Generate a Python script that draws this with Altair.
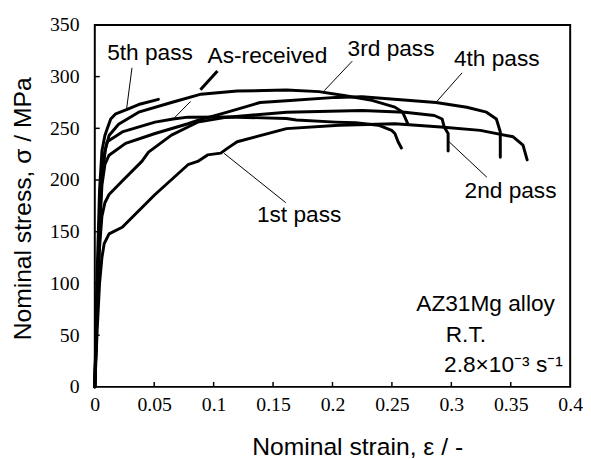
import altair as alt
import pandas as pd

# ---- data ----
series_names = ["5th pass", "3rd pass", "As-received", "4th pass", "2nd pass", "1st pass"]

strain_5th = [0, 0.002, 0.004, 0.006, 0.0085, 0.0106, 0.0134, 0.0176, 0.0267, 0.0369, 0.0535]
stress_5th = [0, 110, 190, 228, 243, 250, 259, 264, 268, 273, 278]

strain_3rd = [0, 0.002, 0.004, 0.006, 0.009, 0.012, 0.02, 0.0369, 0.0645, 0.0894, 0.1198, 0.1613,
              0.1886, 0.211, 0.2332, 0.2525, 0.2591, 0.2635]
stress_3rd = [0, 90, 165, 205, 230, 243, 254, 265.6, 275, 283, 286, 287, 285.5, 281.5, 277, 270.5,
              265.5, 254]

strain_asr = [0, 0.002, 0.004, 0.006, 0.0085, 0.0104, 0.0231, 0.0507, 0.0659, 0.0784, 0.1115, 0.1613,
              0.1696, 0.2027, 0.2193, 0.2386, 0.2498, 0.2525, 0.2552, 0.258]
stress_asr = [0, 85, 160, 205, 228, 237, 246.5, 256, 259, 260.8, 261, 259.5, 258, 256, 255.4, 253,
              248, 245, 237, 231]

strain_4th = [0, 0.002, 0.004, 0.006, 0.0085, 0.012, 0.0259, 0.0507, 0.0784, 0.0866, 0.1115, 0.1391,
              0.1613, 0.2027, 0.2249, 0.2871, 0.313, 0.3296, 0.3379, 0.3412, 0.3412]
stress_4th = [0, 80, 150, 195, 215, 224, 235.4, 245, 254.4, 257.7, 265.6, 275, 276.7, 279.9, 280.6,
              275, 270.4, 265.6, 259, 246.5, 222]

strain_2nd = [0, 0.002, 0.004, 0.006, 0.0085, 0.012, 0.0231, 0.0396, 0.0452, 0.0645, 0.0784, 0.0866,
              0.1115, 0.1613, 0.2249, 0.2608, 0.2857, 0.2923, 0.294, 0.2973, 0.2973]
stress_2nd = [0, 75, 135, 165, 178, 186, 199, 218, 227, 243.4, 251.3, 256, 260.8, 265.6, 267.2,
              265.6, 262.4, 259, 251.3, 245, 228]

strain_1st = [0, 0.002, 0.004, 0.006, 0.0079, 0.012, 0.0231, 0.0507, 0.0784, 0.0866, 0.0949, 0.106,
              0.1115, 0.1198, 0.1613, 0.2055, 0.2525, 0.2912, 0.3244, 0.352, 0.3603, 0.3638]
stress_1st = [0, 55, 100, 125, 138.5, 148, 154.3, 186, 214.8, 218, 224.3, 226, 230.6, 237, 249.7,
              253, 254.4, 251.3, 248, 241.8, 233.8, 219.5]

curves = [
    ("5th pass", strain_5th, stress_5th),
    ("3rd pass", strain_3rd, stress_3rd),
    ("As-received", strain_asr, stress_asr),
    ("4th pass", strain_4th, stress_4th),
    ("2nd pass", strain_2nd, stress_2nd),
    ("1st pass", strain_1st, stress_1st),
]

# labels and their leader lines (data units)
label_text = ["5th pass", "As-received", "3rd pass", "4th pass", "2nd pass", "1st pass"]
label_x = [0.0104, 0.0949, 0.2127, 0.3022, 0.3111, 0.1364]
label_y = [316, 313, 320, 310, 183, 159]

leader_x1 = [0.0313, 0.0659, 0.0889, 0.2166, 0.3091, 0.3299, 0.1607]
leader_y1 = [308.5, 258.9, 287.2, 314.9, 303.7, 202.7, 178.1]
leader_x2 = [0.0267, 0.0806, 0.1032, 0.193, 0.2871, 0.2981, 0.1088]
leader_y2 = [268.2, 276.0, 305.4, 286.3, 275.1, 237.0, 225.8]
leader_w = [1, 1, 3, 1, 1, 1, 1]

cond_text = ["AZ31Mg alloy", "R.T.", "2.8×10⁻³ s⁻¹"]
cond_x = [0.2705, 0.2953, 0.2939]
cond_y = [73, 43.4, 14.8]

x_ticks = [0, 0.05, 0.1, 0.15, 0.2, 0.25, 0.3, 0.35, 0.4]
y_ticks = [0, 50, 100, 150, 200, 250, 300, 350]

# ---- tables ----
rows = []
for name, xs, ys in curves:
    for i, (a, b) in enumerate(zip(xs, ys)):
        rows.append({"series": name, "order": i, "strain": a, "stress": b})
df = pd.DataFrame(rows)

labels_df = pd.DataFrame({"text": label_text, "x": label_x, "y": label_y})
leaders_df = pd.DataFrame({"x": leader_x1, "y": leader_y1, "x2": leader_x2, "y2": leader_y2, "w": leader_w})
cond_df = pd.DataFrame({"text": cond_text, "x": cond_x, "y": cond_y})
xt_df = pd.DataFrame({"v": x_ticks[1:-1]})
yt_df = pd.DataFrame({"v": y_ticks[1:-1]})

W, H = 482, 367
xscale = alt.Scale(domain=[0, 0.4], nice=False, zero=False)
yscale = alt.Scale(domain=[0, 350], nice=False)

XT = "Nominal strain, ε / -"
YT = "Nominal stress, σ / MPa"

x_axis = alt.Axis(
    values=x_ticks, format="~g", ticks=False, tickSize=0, domain=False, grid=False,
    labelFont="Liberation Serif", labelFontSize=20, labelColor="black",
    labelPadding=18, labelBaseline="middle", labelFlush=False,
    title=XT, titleFont="Liberation Sans", titleFontSize=25,
    titleFontWeight="normal", titleColor="black",
    titleX=266, titleY=69, titleBaseline="alphabetic", titleAlign="center",
)
y_axis = alt.Axis(
    values=y_ticks, ticks=False, tickSize=0, domain=False, grid=False,
    labelFont="Liberation Serif", labelFontSize=20, labelColor="black",
    labelPadding=16, labelBaseline="middle", labelFlush=False,
    title=YT, titleFont="Liberation Sans", titleFontSize=25,
    titleFontWeight="normal", titleColor="black",
    titleX=-73, titleY=186, titleAngle=270, titleBaseline="middle", titleAlign="center",
)


def X(field):
    return alt.X(field, scale=xscale, axis=x_axis, title=XT)


def Y(field):
    return alt.Y(field, scale=yscale, axis=y_axis, title=YT)


lines = alt.Chart(df).mark_line(
    color="black", strokeWidth=3, strokeJoin="round", strokeCap="round"
).encode(
    x=X("strain:Q"),
    y=Y("stress:Q"),
    detail="series:N",
    order="order:Q",
)

xticks = alt.Chart(xt_df).mark_rule(color="black", strokeWidth=1.5).encode(
    x=X("v:Q"),
    y=alt.value(H),
    y2=alt.value(H - 5),
)
yticks = alt.Chart(yt_df).mark_rule(color="black", strokeWidth=1.5).encode(
    y=Y("v:Q"),
    x=alt.value(0),
    x2=alt.value(5),
)

leaders = alt.Chart(leaders_df).mark_rule(color="black").encode(
    x=X("x:Q"),
    y=Y("y:Q"),
    x2="x2:Q",
    y2="y2:Q",
    strokeWidth=alt.StrokeWidth("w:Q", scale=None, legend=None),
)

labels = alt.Chart(labels_df).mark_text(
    align="left", baseline="alphabetic", font="Liberation Sans", fontSize=23, color="black"
).encode(
    x=X("x:Q"),
    y=Y("y:Q"),
    text="text:N",
)

conds = alt.Chart(cond_df).mark_text(
    align="left", baseline="alphabetic", font="Liberation Sans", fontSize=23, color="black"
).encode(
    x=X("x:Q"),
    y=Y("y:Q"),
    text="text:N",
)

chart = alt.layer(lines, xticks, yticks, leaders, labels, conds).properties(
    width=W, height=H,
    padding={"left": 88, "top": 14, "right": 13, "bottom": 70},
    autosize=alt.AutoSizeParams(type="none"),
    background="white",
).configure_view(stroke="black", strokeWidth=2)

chart.save("out.html", embed_options={"renderer": "svg", "actions": False})
